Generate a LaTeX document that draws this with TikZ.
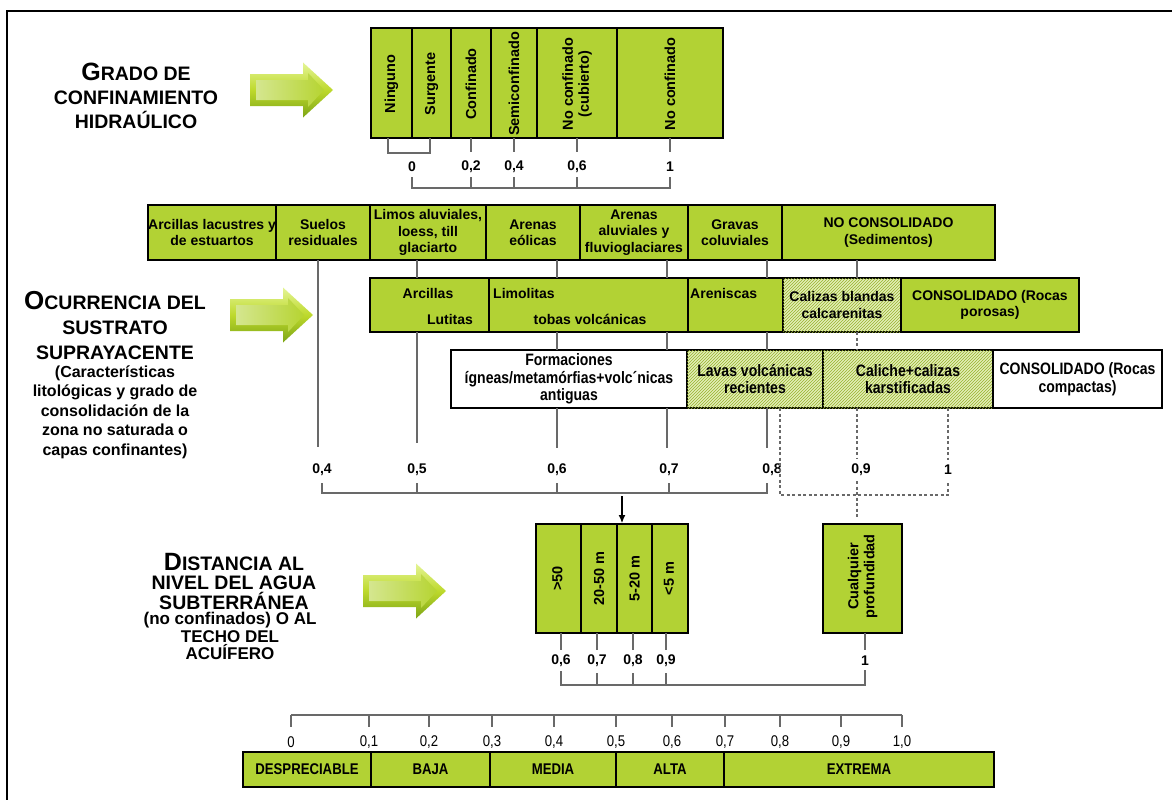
\documentclass[tikz,border=0pt]{standalone}
\usepackage{fontspec}
\setmainfont{Liberation Sans}
\newfontfamily\narrowfont[FakeStretch=0.85]{Liberation Sans}
\usetikzlibrary{patterns,arrows.meta}
\definecolor{grn}{RGB}{178,210,52}
\definecolor{lnc}{RGB}{105,105,105}
\definecolor{arrlight}{RGB}{228,244,150}
\definecolor{arrdark}{RGB}{125,165,22}
\newcommand{\greenarrow}[2]{%
  \begin{scope}[shift={(#1,#2)}]
    \shade[top color=arrlight,bottom color=arrdark,middle color=grn!85!yellow]
      (0,-16) -- (53,-16) -- (53,-27.5) -- (83,0) -- (53,27.5) -- (53,16) -- (0,16) -- cycle;
    \shade[left color=grn!55!white,right color=grn!95!yellow]
      (6,-10) -- (58,-10) -- (58,-17) -- (74,0) -- (58,17) -- (58,10) -- (6,10) -- cycle;
  \end{scope}}
\begin{document}
\begin{tikzpicture}[x=1pt,y=-1pt,
  cell/.style={draw=black,line width=2.6pt,fill=grn,inner sep=0pt,outer sep=0pt,anchor=north west,align=center,font=\bfseries\fontsize{14}{16.5}\selectfont},
  hcell/.style={cell,fill=grn!35!white,postaction={pattern=north east lines,pattern color=grn!85!black}},
  wcell/.style={cell,fill=white},
  ncell/.style={font=\narrowfont\bfseries\fontsize{16.5}{17.5}\selectfont},
  vtxt/.style={rotate=90,align=center,inner sep=0pt,font=\bfseries\fontsize{14.5}{16}\selectfont},
  rtxt/.style={inner sep=0pt,font=\bfseries\fontsize{14}{16.5}\selectfont},
  conn/.style={draw=lnc,line width=1.1pt},
  dconn/.style={conn,dash pattern=on 3pt off 2.5pt},
  lbl/.style={inner sep=1pt,font=\bfseries\fontsize{14}{14}\selectfont},
  slbl/.style={inner sep=1pt,font=\narrowfont\fontsize{15.5}{15.5}\selectfont},
  ttl/.style={align=center,inner sep=0pt,font=\bfseries\fontsize{19.5}{24}\selectfont},
  sttl/.style={align=center,inner sep=0pt,font=\bfseries\fontsize{16}{19.5}\selectfont}]
\useasboundingbox (0,0) rectangle (1172,800);
% frame
\draw[line width=1.5pt] (7,800) -- (7,11) -- (1172,11);

% ---------- titles ----------
\node[ttl] (T1) at (136,96) {{\fontsize{25}{25}\selectfont G}RADO DE\\CONFINAMIENTO\\HIDRAÚLICO};
\node[ttl,font=\bfseries\fontsize{19.5}{25}\selectfont] (T2a) at (115,326) {{\fontsize{26}{26}\selectfont O}CURRENCIA DEL\\SUSTRATO\\SUPRAYACENTE};
\node[sttl] (T2b) at (115,412) {(Características\\litológicas y grado de\\consolidación de la\\zona no saturada o\\capas confinantes)};
\node[ttl,font=\bfseries\fontsize{19.5}{19.5}\selectfont] (T3a) at (234,581) {{\fontsize{25}{25}\selectfont D}ISTANCIA AL\\NIVEL DEL AGUA\\SUBTERRÁNEA};
\node[sttl,font=\bfseries\fontsize{17}{17.5}\selectfont] (T3b) at (230,636) {(no confinados) O AL\\TECHO DEL\\ACUÍFERO};

\greenarrow{250}{90}
\greenarrow{230}{315}
\greenarrow{363}{591}

% ---------- grado de confinamiento ----------
\node[cell,minimum width=41pt,minimum height=110pt] (tN) at (371,28) {};
\node[cell,minimum width=39pt,minimum height=110pt] (tS) at (412,28) {};
\node[cell,minimum width=40pt,minimum height=110pt] (tC) at (451,28) {};
\node[cell,minimum width=46pt,minimum height=110pt] (tSC) at (491,28) {};
\node[cell,minimum width=80pt,minimum height=110pt] (tNC) at (537,28) {};
\node[cell,minimum width=106pt,minimum height=110pt] (tNo) at (617,28) {};
\node[vtxt] (xN) at ([yshift=-1pt]tN.center) {Ninguno};
\node[vtxt] (xS) at ([yshift=-1pt]tS.center) {Surgente};
\node[vtxt] (xC) at ([yshift=-1pt]tC.center) {Confinado};
\node[vtxt] (xSC) at ([yshift=-1pt]tSC.center) {Semiconfinado};
\node[vtxt] (xNC) at ([yshift=-1pt]tNC.center) {No confinado\\(cubierto)};
\node[vtxt] (xNo) at ([yshift=-1pt]tNo.center) {No confinado};

\draw[conn] ([xshift=-3.5pt]tN.south) -- ++(0,15) -| ([xshift=-1.5pt]tS.south);
\foreach \n in {tC,tSC,tNC,tNo} \draw[conn] (\n.south) -- ++(0,14);
\node[lbl] (q0) at (412,167) {0};
\node[lbl] (q2) at (tC |- q0) {0,2};
\node[lbl] (q4) at (tSC |- q0) {0,4};
\node[lbl] (q6) at (tNC |- q0) {0,6};
\node[lbl] (q10) at (tNo |- q0) {1};
\coordinate (qy) at (0,188);
\draw[conn] ([yshift=-4pt]q0.south) -- (q0 |- qy) -- (q10 |- qy) -- ([yshift=-4pt]q10.south);
\foreach \n in {q2,q4,q6} \draw[conn] (\n |- qy) -- ++(0,-11);

% ---------- ocurrencia del sustrato ----------
% row 1
\node[cell,minimum width=128pt,minimum height=55pt] (r1a) at (148,205) {Arcillas lacustres y\\de estuartos};
\node[cell,minimum width=94pt,minimum height=55pt] (r1b) at (276,205) {Suelos\\residuales};
\node[cell,minimum width=116pt,minimum height=55pt] (r1c) at (370,205) {Limos aluviales,\\loess, till\\glaciarto};
\node[cell,minimum width=94pt,minimum height=55pt] (r1d) at (486,205) {Arenas\\eólicas};
\node[cell,minimum width=108pt,minimum height=55pt] (r1e) at (580,205) {Arenas\\aluviales y\\fluvioglaciares};
\node[cell,minimum width=94pt,minimum height=55pt] (r1f) at (688,205) {Gravas\\coluviales};
\node[cell,minimum width=213pt,minimum height=55pt] (r1g) at (782,205) {NO CONSOLIDADO\\(Sedimentos)};
% row 2
\node[cell,minimum width=119pt,minimum height=54pt] (r2a) at (370,278) {};
\node[cell,minimum width=199pt,minimum height=54pt] (r2b) at (489,278) {};
\node[cell,minimum width=95pt,minimum height=54pt] (r2c) at (688,278) {};
\node[hcell,minimum width=118pt,minimum height=54pt] (r2d) at (783,278) {Calizas blandas\\calcarenitas};
\node[cell,minimum width=178pt,minimum height=54pt] (r2e) at (901,278) {CONSOLIDADO (Rocas\\porosas)};
\node[rtxt] (a2t1) at (428,293) {Arcillas};
\node[rtxt] (a2t2) at (450,319) {Lutitas};
\node[rtxt,anchor=west] (b2t1) at (493,293) {Limolitas};
\node[rtxt] (b2t2) at (590,319) {tobas volcánicas};
\node[rtxt,anchor=west] (c2t1) at (690,293) {Areniscas};
% row 3
\node[wcell,ncell,minimum width=236pt,minimum height=58pt] (r3a) at (451,350) {Formaciones\\ígneas/metamórfias+volc´nicas\\antiguas};
\node[hcell,ncell,minimum width=136pt,minimum height=58pt] (r3b) at (687,350) {Lavas volcánicas\\recientes};
\node[hcell,ncell,minimum width=170pt,minimum height=58pt] (r3c) at (823,350) {Caliche+calizas\\karstificadas};
\node[wcell,ncell,minimum width=169pt,minimum height=58pt] (r3d) at (993,350) {CONSOLIDADO (Rocas\\compactas)};

% labels
\node[lbl] (l04) at (322,470) {0,4};
\node[lbl] (l05) at (417,470) {0,5};
\node[lbl] (l06) at (557,470) {0,6};
\node[lbl] (l07) at (669,470) {0,7};
\node[lbl] (l08) at (772,470) {0,8};
\node[lbl] (l09) at (861,470) {0,9};
\node[lbl] (l10) at (948,470) {1};

\coordinate (c04) at (318,447);
\coordinate (c05) at (417,443);
\coordinate (c06) at (557,448);
\coordinate (c07) at (667,448);
\coordinate (c08) at (767,448);
\coordinate (c09) at (857,0);
\coordinate (d08) at (780,0);

\draw[conn] (r1b.south -| c04) -- (c04);
\draw[conn] (r1c.south -| c05) -- (r2a.north -| c05);
\draw[conn] (r2a.south -| c05) -- (c05);
\draw[conn] (r1d.south -| c06) -- (r2b.north -| c06);
\draw[conn] (r2b.south -| c06) -- (r3a.north -| c06);
\draw[conn] (r3a.south -| c06) -- (c06);
\draw[conn] (r1e.south -| c07) -- (r2b.north -| c07);
\draw[conn] (r2b.south -| c07) -- (r3a.north -| c07);
\draw[conn] (r3a.south -| c07) -- (c07);
\draw[conn] (r1f.south -| c08) -- (r2c.north -| c08);
\draw[conn] (r2c.south -| c08) -- (r3b.north -| c08);
\draw[conn] (r3b.south -| c08) -- (c08);
\draw[conn] (r1g.south -| c09) -- (r2d.north -| c09);
\draw[dconn] (r2d.south -| c09) -- (r3c.north -| c09);

\coordinate (by) at (0,493);
\coordinate (dy) at (0,495);
\draw[conn] ([yshift=-6pt]l04.south) -- (l04 |- by) -- (c08 |- by) -- ++(0,-10);
\foreach \n in {l05,l06,l07} \draw[conn] (\n |- by) -- ++(0,-10);
\draw[dconn] (r3b.south -| d08) -- (d08 |- dy) -- (l10 |- dy) -- ([yshift=-5pt]l10.south);
\draw[dconn] (r3c.south -| l10) -- ([yshift=4pt]l10.north);

% ---------- distancia ----------
\node[cell,minimum width=45pt,minimum height=109pt] (dA) at (536,524) {};
\node[cell,minimum width=36pt,minimum height=109pt] (dB) at (581,524) {};
\node[cell,minimum width=35pt,minimum height=109pt] (dC) at (617,524) {};
\node[cell,minimum width=36pt,minimum height=109pt] (dD) at (652,524) {};
\node[cell,minimum width=79pt,minimum height=109pt] (dQ) at (823,524) {};
\node[vtxt] (yA) at ([xshift=-1pt]dA.center) {>50};
\node[vtxt] (yB) at (dB.center) {20-50 m};
\node[vtxt] (yC) at (dC.center) {5-20 m};
\node[vtxt] (yD) at ([xshift=-1pt]dD.center) {<5 m};
\node[vtxt] (yQ) at ([yshift=2pt]dQ.center) {Cualquier\\profundidad};

\draw[dconn] (r3c.south -| c09) -- ([yshift=4pt]l09.north -| c09);
\draw[dconn] ([yshift=-4pt]l09.south -| c09) -- ([yshift=6pt]dQ.north -| c09);

\coordinate (arrS) at (622,496);
\draw[line width=1.1pt,-{Latex[length=8pt,width=7pt]}] (arrS) -- ([yshift=1pt]dC.north -| arrS);

\node[lbl] (k06) at (561,661) {0,6};
\node[lbl] (k07) at (597,661) {0,7};
\node[lbl] (k08) at (633,661) {0,8};
\node[lbl] (k09) at (666,661) {0,9};
\node[lbl] (k10) at (865,661) {1};
\draw[conn] (dA.south -| k06) -- ++(0,17);
\draw[conn] (dB.south -| k07) -- ++(0,17);
\draw[conn] (dC.south -| k08) -- ++(0,17);
\draw[conn] (dD.south -| k09) -- ++(0,17);
\draw[conn] (dQ.south -| k10) -- ++(0,17);
\coordinate (ky) at (0,685);
\draw[conn] ([yshift=-3pt]k06.south) -- (k06 |- ky) -- (k10 |- ky) -- ([yshift=-3pt]k10.south);
\foreach \n in {k07,k08,k09} \draw[conn] (\n |- ky) -- ++(0,-12);

% ---------- escala ----------
\node[slbl] (s0) at (291,742) {0};
\node[slbl] (s1) at (369,742) {0,1};
\node[slbl] (s2) at (429,742) {0,2};
\node[slbl] (s3) at (492,742) {0,3};
\node[slbl] (s4) at (554,742) {0,4};
\node[slbl] (s5) at (616,742) {0,5};
\node[slbl] (s6) at (672,742) {0,6};
\node[slbl] (s7) at (725,742) {0,7};
\node[slbl] (s8) at (780,742) {0,8};
\node[slbl] (s9) at (841,742) {0,9};
\node[slbl] (s10) at (902,742) {1,0};
\coordinate (sy) at (0,715);
\draw[conn] (s0 |- sy) -- (s10 |- sy);
\foreach \n in {s0,s1,s2,s3,s4,s5,s6,s7,s8,s9,s10} \draw[conn] (\n |- sy) -- ++(0,12);

\node[cell,minimum width=128pt,minimum height=35pt,font=\narrowfont\bfseries\fontsize{15.5}{15.5}\selectfont] (e1) at (243,752) {DESPRECIABLE};
\node[cell,minimum width=119pt,minimum height=35pt,font=\narrowfont\bfseries\fontsize{15.5}{15.5}\selectfont] (e2) at (371,752) {BAJA};
\node[cell,minimum width=126pt,minimum height=35pt,font=\narrowfont\bfseries\fontsize{15.5}{15.5}\selectfont] (e3) at (490,752) {MEDIA};
\node[cell,minimum width=108pt,minimum height=35pt,font=\narrowfont\bfseries\fontsize{15.5}{15.5}\selectfont] (e4) at (616,752) {ALTA};
\node[cell,minimum width=270pt,minimum height=35pt,font=\narrowfont\bfseries\fontsize{15.5}{15.5}\selectfont] (e5) at (724,752) {EXTREMA};
\end{tikzpicture}
\end{document}
